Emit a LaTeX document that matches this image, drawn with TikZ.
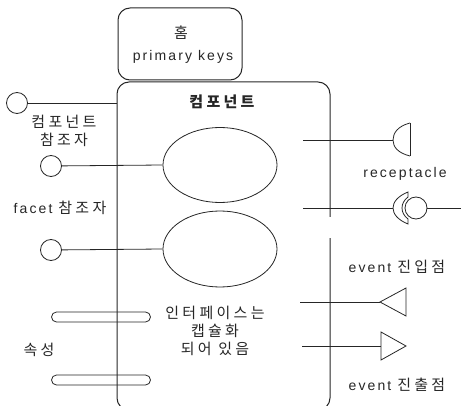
\documentclass[tikz,border=0pt]{standalone}
\usepackage{fontspec}
\usetikzlibrary{shapes.geometric}
\setmainfont{Liberation Sans}[LetterSpace=15]
\newfontfamily\korfont{Noto Sans CJK KR}[LetterSpace=22,Scale=1.07]
\newcommand\kor[1]{{\korfont #1}}
\begin{document}
\begin{tikzpicture}[x=1pt,y=-1pt,
  ln/.style={line width=0.8pt,black!85},
  boxln/.style={line width=1pt,black!85},
  txt/.style={font=\fontsize{14}{18}\selectfont,inner sep=0pt,align=center,text=black!85},
  port/.style={circle,draw,ln,minimum size=21pt,inner sep=0pt},
  facetell/.style={ellipse,draw,ln,inner sep=0pt},
  attrbar/.style={draw,ln,rounded corners=5pt,minimum width=99pt,minimum height=10pt,inner sep=0pt}]
\useasboundingbox (0,0) rectangle (463,406);
\clip (0,0) rectangle (463,406);
% home box
\node[draw,boxln,rounded corners=12pt,minimum width=124pt,minimum height=72pt,inner sep=0pt] (homebox) at (180,44) {};
\node[txt] (home) at (181,33) {\kor{홈}};
\node[txt] (pk) at (183,57) {primary keys};
% main component box
\draw[boxln,rounded corners=12pt] (330,217) -- (330,82) -- (117,82) -- (117,410) -- (330,410) -- (330,238);
\coordinate (lefttop) at (117,103);
\node[txt] (comp) at (222,102) {\kor{\bfseries 컴포넌트}};
% facets
\node[facetell,minimum width=114pt,minimum height=75pt] (e1) at (220,165) {};
\node[facetell,minimum width=114pt,minimum height=76pt] (e2) at (220,249) {};
% component reference
\node[port] (c1) at (17,103) {};
\draw[ln] (c1) -- (lefttop);
\node[txt] (cref) at (64,131) {\kor{컴포넌트}\\\kor{참조자}};
% facet references
\node[port] (c2) at (51,166) {};
\node[port] (c3) at (51,250) {};
\draw[ln] (c2) -- (e1.west);
\draw[ln] (c3) -- (e2.west);
\node[txt] (fref) at (60,208) {facet \kor{참조자}};
% receptacles
\coordinate (r1s) at (303,140);
\coordinate (r1e) at (393,140);
\draw[ln] (r1s) -- (r1e);
\draw[ln] (410,123) -- (410,156);
\draw[ln] (410,123) .. controls (398,126) and (393,133) .. (r1e) .. controls (393,147) and (398,153) .. (410,156);
\node[txt] (recep) at (405,174) {receptacle};
\coordinate (r2s) at (303,208);
\coordinate (r2e) at (393,208);
\draw[ln] (r2s) -- (r2e);
\draw[ln] (408,192) .. controls (398,196) and (393,202) .. (r2e) .. controls (393,214) and (398,220) .. (408,224) -- (408,219) .. controls (404,216) and (402,212) .. (402,208) .. controls (402,204) and (404,200) .. (408,197) -- cycle;
\node[port,minimum size=22pt] (ball) at (416,208) {};
\coordinate (r2o) at (461,208);
\draw[ln] (ball) -- (r2o);
% event sink
\node[txt] (sinklbl) at (397,267) {event \kor{진입점}};
\coordinate (s1s) at (300,302);
\coordinate (s1e) at (380,302);
\draw[ln] (s1s) -- (s1e);
\draw[ln] (s1e) -- (406,288) -- (406,316) -- cycle;
% event source
\coordinate (s2s) at (302,346);
\coordinate (s2e) at (381,346);
\draw[ln] (s2s) -- (s2e);
\draw[ln] (381,332) -- (406,346) -- (381,360) -- cycle;
\node[txt] (srclbl) at (397,385) {event \kor{진출점}};
% encapsulation text
\node[txt] (encap) at (215,331) {\kor{인터페이스는}\\\kor{캡슐화}\\\kor{되어 있음}};
% attributes
\node[attrbar] (b1) at (101,317) {};
\node[attrbar] (b2) at (101,380) {};
\node[txt] (attr) at (39,350) {\kor{속성}};
\end{tikzpicture}
\end{document}
